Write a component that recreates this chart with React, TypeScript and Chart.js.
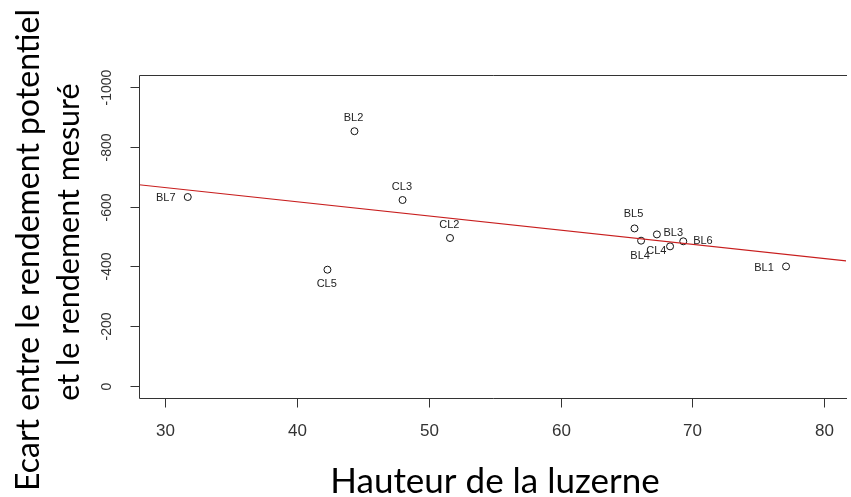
import React, { useEffect, useRef } from "react";
import { Chart, registerables } from "chart.js";

Chart.register(...registerables);

const pointNames = ["BL2", "CL3", "CL2", "CL5", "BL5", "BL4", "BL3", "CL4", "BL6", "BL1", "BL7"];
const hauteur = [44.35, 48.0, 51.6, 42.3, 65.6, 66.1, 67.3, 68.3, 69.3, 77.1, 31.7];
const ecart = [-852, -622, -495, -389, -527, -486, -507, -467, -484, -400, -632];

// regression line (two ends)
const fitX = [28, 82];
const fitY = [-673, -416.5];

const xTicks = [30, 40, 50, 60, 70, 80];
const yTicks = [0, -200, -400, -600, -800, -1000];

const xTitle = "Hauteur de la luzerne";
const yTitle1 = "Ecart entre le rendement potentiel";
const yTitle2 = "et le rendement mesuré";

// label placement (pixel offsets of label centre from its point)
const labelOffsets: [number, number][] = [
  [-1, -13.6], [-0.6, -12.7], [-0.7, -13], [-0.7, 14.6], [-1, -14], [-1, 15],
  [16.4, -1], [-13.7, 4.7], [19.7, -0.3], [-22, 1.4], [-22, 0.7],
];

const basePlugin = {
  id: "rstyle",
  afterDraw(chart: any) {
    const ctx = chart.ctx as CanvasRenderingContext2D;
    const { left, right, top, bottom } = chart.chartArea;
    const xs = chart.scales.x;
    const ys = chart.scales.y;
    ctx.save();
    // box
    ctx.strokeStyle = "#333";
    ctx.lineWidth = 1;
    ctx.beginPath();
    ctx.moveTo(right + 1, top + 0.5);
    ctx.lineTo(left + 0.5, top + 0.5);
    ctx.lineTo(left + 0.5, bottom + 0.5);
    ctx.lineTo(right + 1, bottom + 0.5);
    ctx.stroke();
    // x ticks
    ctx.fillStyle = "#333";
    ctx.font = "17px 'Liberation Sans', Arial, sans-serif";
    ctx.textAlign = "center";
    ctx.textBaseline = "alphabetic";
    xTicks.forEach((v) => {
      const px = Math.round(xs.getPixelForValue(v)) + 0.5;
      ctx.beginPath();
      ctx.moveTo(px, bottom + 0.5);
      ctx.lineTo(px, bottom + 9.5);
      ctx.stroke();
      ctx.fillText(String(v), px, 436);
    });
    // y ticks
    ctx.font = "14px 'Liberation Sans', Arial, sans-serif";
    yTicks.forEach((v) => {
      const py = Math.round(ys.getPixelForValue(v)) + 0.5;
      ctx.beginPath();
      ctx.moveTo(left + 0.5, py);
      ctx.lineTo(left - 8.5, py);
      ctx.stroke();
      ctx.save();
      ctx.translate(111, py);
      ctx.rotate(-Math.PI / 2);
      ctx.fillText(String(v), 0, 0);
      ctx.restore();
    });
    // point labels
    ctx.fillStyle = "#222";
    ctx.font = "11px 'Liberation Sans', Arial, sans-serif";
    ctx.textBaseline = "middle";
    pointNames.forEach((name, i) => {
      const px = xs.getPixelForValue(hauteur[i]);
      const py = ys.getPixelForValue(ecart[i]);
      const [dx, dy] = labelOffsets[i];
      ctx.fillText(name, px + dx, py + dy);
    });
    // axis titles
    ctx.fillStyle = "#000";
    ctx.font = "35px Lato, 'Open Sans', sans-serif";
    ctx.textBaseline = "middle";
    ctx.fillText(xTitle, 495, 482);
    ctx.font = "32px Lato, 'Open Sans', sans-serif";
    ctx.save();
    ctx.translate(29, 250);
    ctx.rotate(-Math.PI / 2);
    ctx.fillText(yTitle1, 0, 0);
    ctx.restore();
    ctx.font = "30.5px Lato, 'Open Sans', sans-serif";
    ctx.save();
    ctx.translate(69, 242);
    ctx.rotate(-Math.PI / 2);
    ctx.fillText(yTitle2, 0, 0);
    ctx.restore();
    ctx.restore();
  },
};

export default function App() {
  const ref = useRef<HTMLCanvasElement | null>(null);
  useEffect(() => {
    if (!ref.current) return;
    const chart = new Chart(ref.current, {
      type: "scatter",
      data: {
        datasets: [
          {
            type: "line",
            data: fitX.map((x, i) => ({ x, y: fitY[i] })),
            borderColor: "#c81e1e",
            borderWidth: 1.2,
            pointRadius: 0,
            fill: false,
          } as any,
          {
            type: "scatter",
            data: hauteur.map((x, i) => ({ x, y: ecart[i] })),
            pointStyle: "circle",
            pointRadius: 3.5,
            borderColor: "#111",
            backgroundColor: "rgba(255,255,255,0)",
            borderWidth: 1,
          },
        ],
      },
      options: {
        responsive: false,
        animation: false,
        devicePixelRatio: 1,
        layout: { padding: { left: 139, top: 75, right: 0, bottom: 99 } },
        plugins: { legend: { display: false }, tooltip: { enabled: false } },
        scales: {
          x: { type: "linear", display: false, min: 28, max: 81.65 },
          y: { type: "linear", display: false, min: -1040, max: 40, reverse: true },
        },
      },
      plugins: [basePlugin],
    });
    return () => chart.destroy();
  }, []);
  return (
    <div style={{ position: "absolute", left: 0, top: 0, width: 851, height: 497, background: "#fff" }}>
      <canvas ref={ref} width={851} height={497} />
    </div>
  );
}
